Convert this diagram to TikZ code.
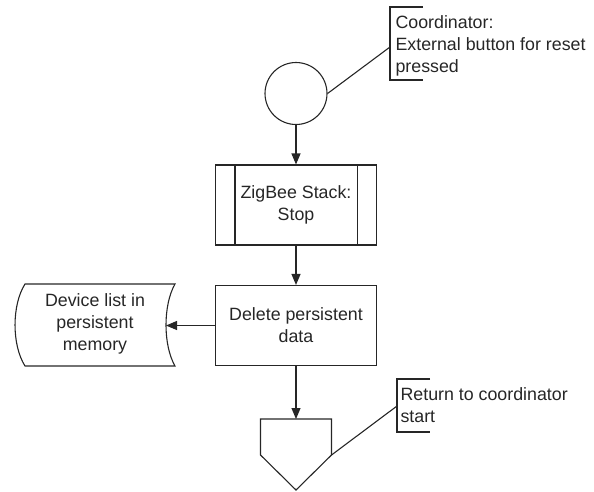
\documentclass[tikz,border=0pt]{standalone}
\usepackage{fontspec}
\setmainfont{Liberation Sans}
\usetikzlibrary{arrows.meta}

\begin{document}
\begin{tikzpicture}[x = 1pt, y = -1pt, font = \fontsize{17.8}{22}\selectfont, line width = 1.1pt, color = black!85]
	\tikzstyle{startStyle} = [shape = circle, minimum size = 62pt, inner sep = 0pt, draw]
	\tikzstyle{processStyle} = [shape = rectangle, minimum width = 161pt, minimum height = 80pt, inner sep = 0pt, align = center, draw]
	\tikzstyle{noteStyle} = [anchor = north west, align = left, inner sep = 0pt]
	\tikzstyle{flowStyle} = [-{Triangle[length = 11pt, width = 9pt]}]
	\useasboundingbox (0,0) rectangle (594,491);
	\node[startStyle] (start) at (296,93.5) {};
	\node[processStyle] (stack) at (296,205) {ZigBee Stack:\\Stop};
	\node[processStyle] (delete) at (296,325.5) {Delete persistent\\data};
	\node[align = center, inner sep = 0pt] (mem) at (95,324) {Device list in\\persistent\\memory};
	\node[noteStyle] (note1) at (395,15) {Coordinator:\\External button for reset\\pressed};
	\node[noteStyle] (note2) at (400,387) {Return to coordinator\\start};
	\coordinate (memin) at (166,325.5);
	\coordinate (stop) at (296,419);
	\coordinate (stopR) at (331.5,455);
	\coordinate (n1) at (390,47);
	\coordinate (n2) at (397,406);
	% sub-process bars
	\draw ([xshift = 20pt]stack.north west) -- ([xshift = 20pt]stack.south west);
	\draw ([xshift = -20pt]stack.north east) -- ([xshift = -20pt]stack.south east);
	% stored data
	\draw (25,284) -- (175,284) .. controls (163,305) and (163,345) .. (175,366) -- (25,366) .. controls (11.7,345) and (11.7,305) .. (25,284) -- cycle;
	% off-page connector
	\draw (260.5,419) -- (331.5,419) -- (331.5,455) -- (296,490) -- (260.5,455) -- cycle;
	% annotation brackets
	\draw (423,7) -- (390,7) -- (390,80) -- (423,80);
	\draw (430,379) -- (397,379) -- (397,432) -- (430,432);
	\draw[flowStyle] (start) -- (stack);
	\draw[flowStyle] (stack) -- (delete);
	\draw[flowStyle] (delete) -- (stop);
	\draw[flowStyle] (delete.west) -- (memin);
	\draw (start.east) -- (n1);
	\draw (stopR) -- (n2);
\end{tikzpicture}
\end{document}
